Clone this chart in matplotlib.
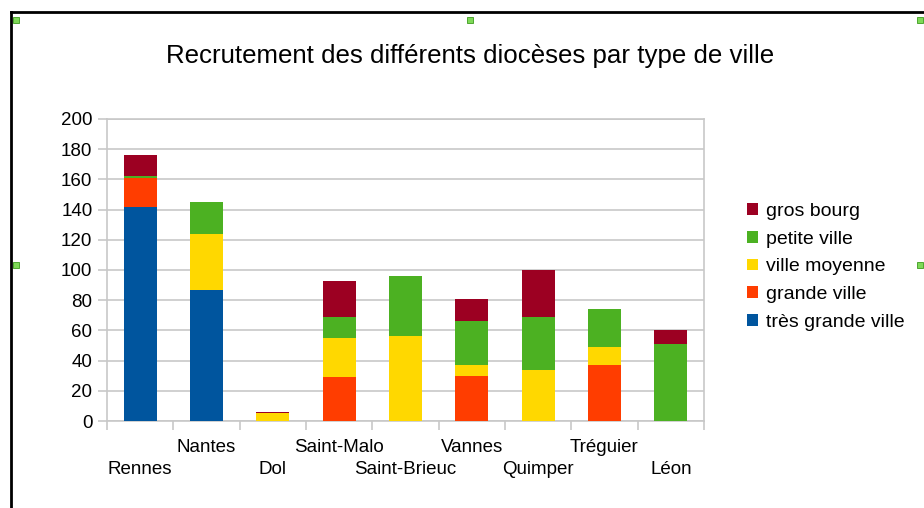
import matplotlib
matplotlib.use("Agg")
import matplotlib.pyplot as plt
from matplotlib.patches import Rectangle
from matplotlib.lines import Line2D
import numpy as np

plt.rcParams['font.family'] = ['Liberation Sans', 'DejaVu Sans']

categories = ["Rennes", "Nantes", "Dol", "Saint-Malo", "Saint-Brieuc",
              "Vannes", "Quimper", "Tréguier", "Léon"]
tres_grande_ville = [142, 87, 0, 0, 0, 0, 0, 0, 0]
grande_ville = [19, 0, 0, 29, 0, 30, 0, 37, 0]
ville_moyenne = [0, 37, 5, 26, 56, 7, 34, 12, 0]
petite_ville = [1, 21, 0, 14, 40, 29, 35, 25, 51]
gros_bourg = [14, 0, 1, 24, 0, 15, 31, 0, 9]

series = [
    ("très grande ville", tres_grande_ville, "#00559E"),
    ("grande ville", grande_ville, "#FF3D00"),
    ("ville moyenne", ville_moyenne, "#FFD800"),
    ("petite ville", petite_ville, "#4CB122"),
    ("gros bourg", gros_bourg, "#9C0022"),
]

fig = plt.figure(figsize=(9.24, 5.08), dpi=100)
ax = fig.add_axes([107/924, 87/508, 597/924, 302/508])

x = np.arange(len(categories))
bottom = np.zeros(len(categories))
handles = []
for name, vals, col in series:
    vals = np.array(vals, dtype=float)
    b = ax.bar(x, vals, width=0.5, bottom=bottom, color=col, label=name,
               zorder=3, edgecolor='none')
    bottom += vals
    handles.append(b)

ax.set_ylim(0, 200)
ax.set_xlim(-0.5, len(categories) - 0.5)
ax.set_yticks(np.arange(0, 201, 20))
ax.yaxis.grid(True, color='#c8c8c8', linewidth=1.2, zorder=0)
ax.set_axisbelow(True)
for s in ax.spines.values():
    s.set_color('#c8c8c8')
    s.set_linewidth(1.2)

ax.tick_params(axis='y', length=6.5, width=1.2, color='#c8c8c8', labelsize=13.5, pad=4)
ax.set_xticks(x)
ax.set_xticklabels(categories, fontsize=13.5)
ax.tick_params(axis='x', which='major', length=0)
ax.set_xticks(np.arange(-0.5, len(categories), 1.0), minor=True)
ax.tick_params(axis='x', which='minor', length=6.5, width=1.2, color='#c8c8c8')
for i, tick in enumerate(ax.xaxis.get_major_ticks()):
    tick.set_pad(29 if i % 2 == 0 else 13)

fig.text(470/924, 1 - 63/508, "Recrutement des différents diocèses par type de ville",
         ha='center', va='baseline', fontsize=18.6)

leg = fig.legend(handles[::-1], [s[0] for s in series][::-1],
                 loc='upper left', bbox_to_anchor=(747/924, 1 - 203/508),
                 frameon=False, fontsize=14, handlelength=0.55, handleheight=0.55,
                 handletextpad=0.45, labelspacing=0.55, borderaxespad=0, borderpad=0)

# chart frame and selection handles
fig.add_artist(Line2D([11/924, 11/924], [0, 1 - 12/508], color='black', linewidth=2,
                      transform=fig.transFigure))
fig.add_artist(Line2D([11/924, 1], [1 - 12/508, 1 - 12/508], color='black', linewidth=2,
                      transform=fig.transFigure))
for (hx, hy) in [(16, 20), (470, 20), (920, 20), (16, 265), (920, 265)]:
    fig.add_artist(Rectangle(((hx - 3)/924, 1 - (hy + 3)/508), 6/924, 6/508,
                             facecolor='#7ed957', edgecolor='#3c9a1c', linewidth=0.6,
                             transform=fig.transFigure))

fig.savefig("out.png", dpi=100)
